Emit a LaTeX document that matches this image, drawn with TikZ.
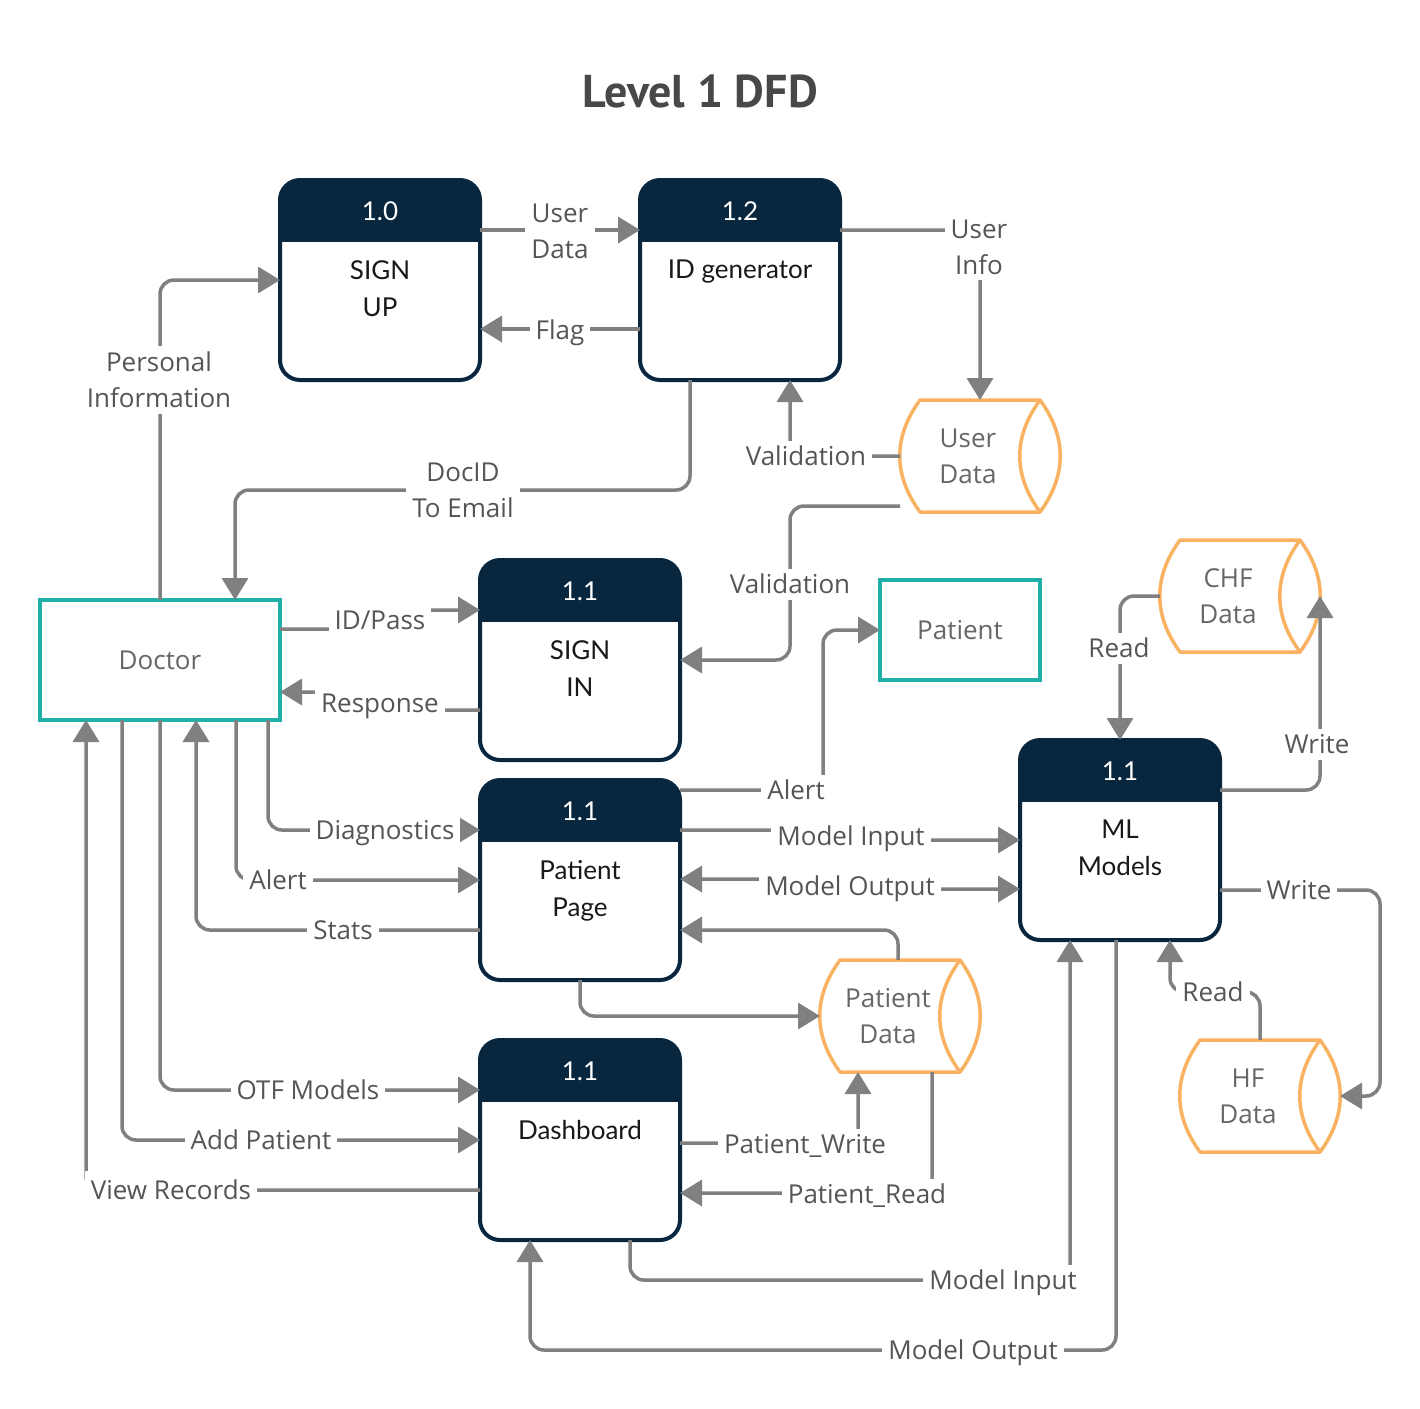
\documentclass[tikz,border=0pt]{standalone}
\usepackage{fontspec}
\setmainfont{Open Sans}
\newfontfamily\boxfont{Lato}
\newfontfamily\titlefont{PT Sans}
\usetikzlibrary{arrows.meta}
\definecolor{Navy}{RGB}{8,38,62}
\definecolor{Teal}{RGB}{32,176,170}
\definecolor{Amber}{RGB}{248,178,98}
\definecolor{Flowgray}{RGB}{128,128,128}
\definecolor{Textgray}{RGB}{85,85,85}
\definecolor{Storegray}{RGB}{102,102,102}
\definecolor{Titlegray}{RGB}{72,72,72}

% process box: name, x, y, number, text
\newcommand{\dfdproc}[5]{%
  \node[procbox] (#1) at (#2,#3) {};
  \begin{scope}
    \clip[rounded corners=20pt] (#1.south west) rectangle (#1.north east);
    \fill[Navy] (#1.north west) rectangle ([yshift=-62pt]#1.north east);
  \end{scope}
  \draw[Navy, line width=4pt, rounded corners=20pt] (#1.south west) rectangle (#1.north east);
  \node[procnum] (#1-num) at ([yshift=-31pt]#1.north) {#4};
  \node[proctext] (#1-txt) at ([yshift=-80pt]#1.north) {#5};
}
% data store: name, x, y, text
\newcommand{\dfdstore}[4]{%
  \node[storebox] (#1) at (#2,#3) {};
  \draw[Amber, line width=3.5pt, line join=round]
    (#2-60,#3-56) -- (#2+60,#3-56)
    .. controls (#2+87,#3-19) and (#2+87,#3+19) .. (#2+60,#3+56)
    -- (#2-60,#3+56)
    .. controls (#2-87,#3+19) and (#2-87,#3-19) .. cycle;
  \draw[Amber, line width=3.5pt]
    (#2+60,#3-56) .. controls (#2+33,#3-19) and (#2+33,#3+19) .. (#2+60,#3+56);
  \node[storetext] (#1-txt) at (#2-12,#3) {#4};
}

\begin{document}
\begin{tikzpicture}[x=1pt, y=-1pt,
    flow/.style={draw=Flowgray, line width=3.5pt, rounded corners=14pt,
      -{Triangle[length=22pt,width=26pt]}},
    lbl/.style={fill=white, inner sep=6pt, text=Textgray, align=center,
      font=\fontsize{26}{36}\selectfont},
    oneline/.style={text height=19pt, text depth=0pt},
    procbox/.style={minimum width=200pt, minimum height=200pt, inner sep=0pt, outer sep=0pt},
    procnum/.style={text=white, font=\boxfont\fontsize{26}{37}\selectfont},
    proctext/.style={anchor=north, inner sep=0pt, align=center, text=black!90,
      font=\boxfont\fontsize{26}{37}\selectfont},
    storebox/.style={minimum width=160pt, minimum height=112pt, inner sep=0pt, outer sep=0pt},
    storetext/.style={align=center, text=Storegray, font=\fontsize{26}{36}\selectfont},
    entity/.style={draw=Teal, line width=3.5pt, outer sep=0pt, text=Storegray,
      font=\fontsize{26}{36}\selectfont},
  ]
  \fill[white] (0,0) rectangle (1420,1408);
  \useasboundingbox (0,0) rectangle (1420,1408);

  \node[text=Titlegray, font=\titlefont\bfseries\fontsize{46}{54}\selectfont] (title) at (700,91) {Level 1 DFD};

  % processes
  \dfdproc{signup}{380}{280}{1.0}{SIGN\\UP}
  \dfdproc{idgen}{740}{280}{1.2}{ID generator}
  \dfdproc{signin}{580}{660}{1.1}{SIGN\\IN}
  \dfdproc{pp}{580}{880}{1.1}{Patient\\Page}
  \dfdproc{dash}{580}{1140}{1.1}{Dashboard}
  \dfdproc{ml}{1120}{840}{1.1}{ML\\Models}

  % data stores
  \dfdstore{ud}{980}{456}{User\\Data}
  \dfdstore{chf}{1240}{596}{CHF\\Data}
  \dfdstore{pd}{900}{1016}{Patient\\Data}
  \dfdstore{hf}{1260}{1096}{HF\\Data}

  % external entities
  \node[entity, minimum width=240pt, minimum height=120pt] (doctor) at (160,660) {Doctor};
  \node[entity, minimum width=160pt, minimum height=100pt] (patient) at (960,630) {Patient};

  % flows
  \draw[flow] (signup.east |- 0,230) -- (idgen.west |- 0,230);
  \draw[flow] (idgen.west |- 0,329) -- (signup.east |- 0,329);
  \draw[flow] (doctor.north) |- (signup.west |- 0,280);
  \draw[flow] (idgen.south -| 690,0) |- (235,490) -- (doctor.north -| 235,0);
  \draw[flow] (idgen.east |- 0,230) -| (ud.north);
  \draw[flow] (ud.west) -| (idgen.south -| 790,0);
  \draw[flow] (ud.west |- 0,506) -| (790,660) -- (signin.east |- 0,660);
  \draw[flow] (doctor.east |- 0,629) -- (380,629) -- (380,610) -- (signin.west |- 0,610);
  \draw[flow] (signin.west |- 0,710) -- (380,710) -- (380,692) -- (doctor.east |- 0,692);
  \draw[flow] (doctor.south -| 268,0) |- (pp.west |- 0,830);
  \draw[flow] (doctor.south -| 236,0) |- (pp.west |- 0,880);
  \draw[flow] (pp.west |- 0,930) -| (doctor.south -| 196,0);
  \draw[flow] (doctor.south -| 160,0) |- (dash.west |- 0,1090);
  \draw[flow] (doctor.south -| 122,0) |- (dash.west |- 0,1140);
  \draw[flow] (dash.west |- 0,1190) -| (doctor.south -| 86,0);
  \draw[flow] (pp.east |- 0,790) -| (823,700) |- (patient.west);
  \draw[flow] (pp.east |- 0,830) -- (851,830) -- (851,840) -- (ml.west |- 0,840);
  \draw[flow, {Triangle[length=22pt,width=26pt]}-{Triangle[length=22pt,width=26pt]}]
    (pp.east |- 0,879) -- (850,879) -- (850,889) -- (ml.west |- 0,889);
  \draw[flow] (pd.north -| 898,0) |- (pp.east |- 0,930);
  \draw[flow] (pp.south) |- (pd.west);
  \draw[flow] (dash.east |- 0,1143) -| (pd.south -| 858,0);
  \draw[flow] (pd.south -| 932,0) |- (dash.east |- 0,1193);
  \draw[flow] (dash.south -| 630,0) |- (1070,1280) -- (ml.south -| 1070,0);
  \draw[flow] (ml.south -| 1116,0) |- (530,1350) -- (dash.south -| 530,0);
  \draw[flow] (chf.west) -| (ml.north);
  \draw[flow] (ml.east |- 0,790) -| (chf.east);
  \draw[flow] (ml.east |- 0,890) -| (1380,1000) |- (hf.east);
  \draw[flow] (hf.north) -- (hf.north |- 0,992) -| (ml.south -| 1170,0);

  % flow labels
  \node[lbl] (l-userdata) at (560,231) {User\\Data};
  \node[lbl, oneline] (l-flag) at (560,330) {Flag};
  \node[lbl] (l-personal) at (159,380) {Personal\\Information};
  \node[lbl] (l-docid) at (463,490) {DocID\\To Email};
  \node[lbl] (l-userinfo) at (979,247) {User\\Info};
  \node[lbl, oneline] (l-valid1) at (806,456) {Validation};
  \node[lbl, oneline] (l-valid2) at (790,584) {Validation};
  \node[lbl, oneline] (l-idpass) at (380,620) {ID/Pass};
  \node[lbl, oneline] (l-response) at (380,703) {Response};
  \node[lbl, oneline] (l-diag) at (385,830) {Diagnostics};
  \node[lbl, oneline] (l-alert1) at (278,880) {Alert};
  \node[lbl, oneline] (l-stats) at (343,930) {Stats};
  \node[lbl, oneline] (l-otf) at (308,1090) {OTF Models};
  \node[lbl, oneline] (l-addpat) at (261,1140) {Add Patient};
  \node[lbl, oneline, inner ysep=10pt] (l-view) at (171,1190) {View Records};
  \node[lbl, oneline] (l-alert2) at (796,790) {Alert};
  \node[lbl, oneline] (l-minput1) at (851,836) {Model Input};
  \node[lbl, oneline] (l-moutput1) at (850,886) {Model Output};
  \node[lbl, oneline] (l-read1) at (1119,648) {Read};
  \node[lbl, oneline] (l-write1) at (1317,744) {Write};
  \node[lbl, oneline] (l-write2) at (1299,890) {Write};
  \node[lbl, oneline] (l-read2) at (1213,992) {Read};
  \node[lbl, oneline] (l-pwrite) at (805,1144) {Patient\_Write};
  \node[lbl, oneline] (l-pread) at (867,1194) {Patient\_Read};
  \node[lbl, oneline] (l-minput2) at (1003,1280) {Model Input};
  \node[lbl, oneline] (l-moutput2) at (973,1350) {Model Output};
\end{tikzpicture}
\end{document}
